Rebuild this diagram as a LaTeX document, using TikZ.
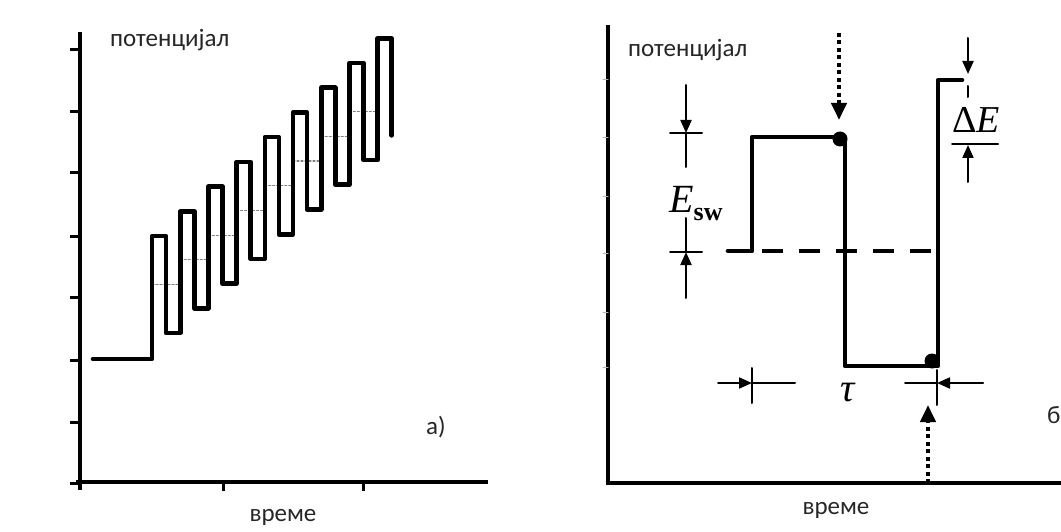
\documentclass[tikz,border=0pt]{standalone}
\usepackage{fontspec}
\newfontfamily\lblfont{Carlito}
\newfontfamily\tnrfont{Liberation Serif}
\usetikzlibrary{arrows.meta}

\begin{document}
\begin{tikzpicture}[x=1pt, y=-1pt, line cap=round, line join=round,
    axisline/.style={line width=4.4pt, line cap=butt, line join=miter},
    tickmark/.style={line width=3pt, line cap=butt},
    wave/.style={line width=4.6pt},
    midline/.style={line width=1.2pt, gray, dash pattern=on 2pt off 2pt},
    zeroline/.style={line width=4.6pt, line cap=butt, dash pattern=on 21pt off 16pt},
    dimline/.style={line width=2pt},
    dimtip/.style={-{Triangle[length=13pt,width=11pt]}},
    probe/.style={line width=4pt, line cap=butt, dash pattern=on 4pt off 3.5pt,
                  -{Triangle[length=17pt,width=15pt]}},
    lbl/.style={font=\lblfont\fontsize{25}{28}\selectfont, text=black!85, inner sep=0pt},
    sym/.style={font=\tnrfont\fontsize{40}{40}\selectfont, inner sep=0pt}]
  \useasboundingbox (0,0) rectangle (1061,532);
  % (a) степенасти потенцијал са импулсима
  \draw[axisline] (80,32) -- (80,490);
  \draw[axisline] (76,482) -- (488,482);
  \foreach \ty in {50,112,173,236,297,360,422,483}
    \draw[tickmark] (70,\ty) -- (80,\ty);
  \foreach \tx in {223,363}
    \draw[tickmark] (\tx,482) -- (\tx,491);
  \foreach \k in {0,...,7}
    \draw[midline] ({152+28.2*\k},{284.5-24.7*\k}) -- ({180.2+28.2*\k},{284.5-24.7*\k});
  \draw[wave] (93,359) foreach \k in {0,...,8} {
      -| ({152+28.2*\k},{236-24.7*\k}) -| ({166.1+28.2*\k},{333-24.7*\k}) };
  \node[lbl, anchor=base west] (potA) at (110,47) {потенцијал};
  \node[lbl] (vremeA) at (283,517) {време};
  \node[lbl] (labA) at (436,427) {а)};
  % (b) један импулс
  \draw[axisline] (608,25) -- (608,483) -- (1061,483);
  \foreach \ty in {80,138,197,253,312,367}
    \draw[line width=1pt, gray!60] (603,\ty) -- (608,\ty);
  \draw[zeroline] (762,251) -- (938,251);
  \draw[wave] (728,251) -- (752,251) -- (752,137) -- (845,137)
    -- (845,366) -- (938,366) -- (938,80) -- (962,80);
  \fill (840,139) circle (7.5pt);
  \fill (932,361) circle (7.5pt);
  \draw[probe] (839,33) -- (839,120);
  \draw[probe] (928,483) -- (928,405);
  % E_sw
  \node[sym, anchor=base west] (esw) at (669,212)
    {\itshape E\raisebox{-8pt}{\fontsize{26}{26}\selectfont\bfseries\upshape sw}};
  \draw[dimline] (670,133) -- (702,133);
  \draw[dimline] (670,252) -- (702,252);
  \draw[dimline, dimtip] (686,85) -- (686,133);
  \draw[dimline] (686,133) -- (686,167);
  \draw[dimline] (686,218) -- (686,252);
  \draw[dimline, dimtip] (686,298) -- (686,252);
  % Delta E
  \node[sym, font=\tnrfont\fontsize{38}{38}\selectfont] (dE) at (976,120) {Δ\itshape E};
  \draw[dimline, dimtip] (968,38) -- (968,74);
  \draw[dimline] (968,86) -- (968,97);
  \draw[dimline] (952,144) -- (998,144);
  \draw[dimline, dimtip] (968,182) -- (968,145);
  % tau
  \node[sym, font=\tnrfont\itshape\fontsize{40}{40}\selectfont] (tau) at (848,393) {τ};
  \draw[dimline] (752,368) -- (752,403);
  \draw[dimline] (937,370) -- (937,405);
  \draw[dimline, dimtip] (718,383) -- (752,383);
  \draw[dimline] (752,383) -- (795,383);
  \draw[dimline] (905,383) -- (937,383);
  \draw[dimline, dimtip] (983,383) -- (937,383);
  \node[lbl, anchor=base west] (potB) at (628,57) {потенцијал};
  \node[lbl] (vremeB) at (836,510) {време};
  \node[lbl, anchor=west] (labB) at (1047,415) {б};
\end{tikzpicture}
\end{document}
